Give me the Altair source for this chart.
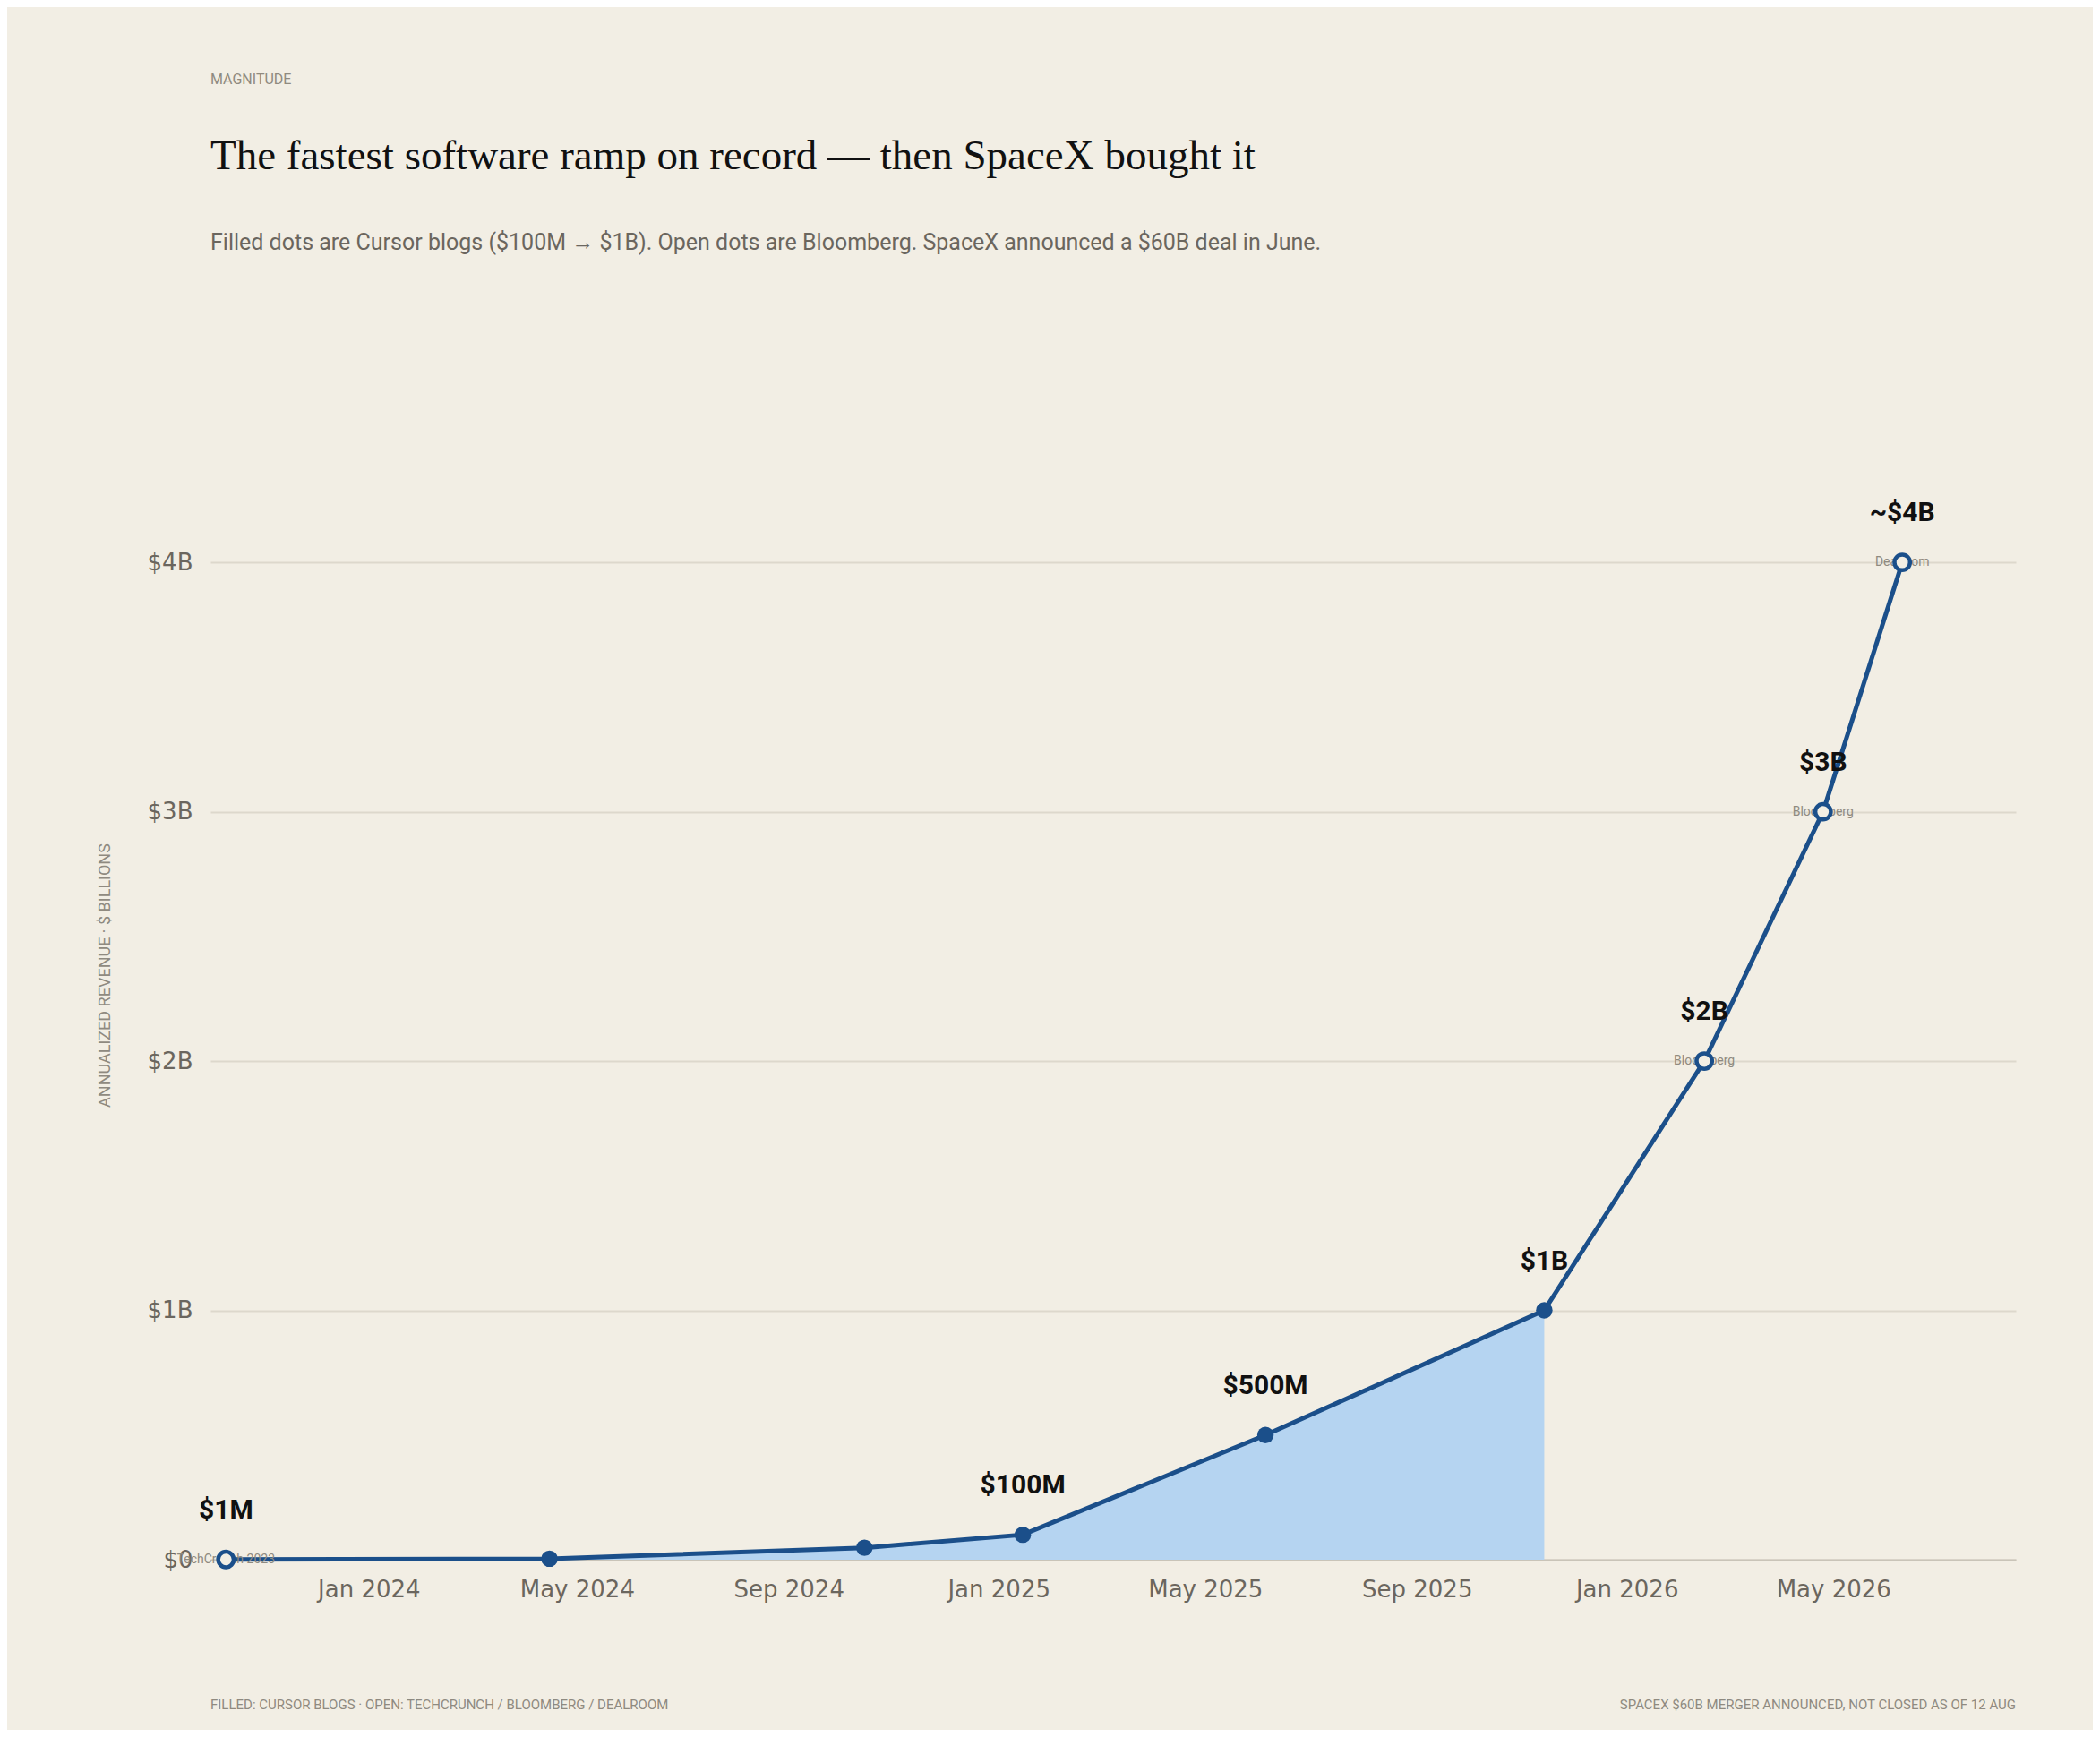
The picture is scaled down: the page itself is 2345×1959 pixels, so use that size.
import altair as alt
import pandas as pd

dates = ["2023-10-10", "2024-04-15", "2024-10-15", "2025-01-15", "2025-06-05",
         "2025-11-14", "2026-02-15", "2026-04-25", "2026-06-10"]
values = [0.001, 0.004, 0.048, 0.1, 0.5, 1.0, 2.0, 3.0, 4.0]
labels = ["$1M", "", "", "$100M", "$500M", "$1B", "$2B", "$3B", "~$4B"]
sources = ["TechCrunch 2023", "", "", "", "", "", "Bloomberg", "Bloomberg", "Dealroom"]
kinds = ["open", "filled", "filled", "filled", "filled", "filled", "open", "open", "open"]
in_area = [True, True, True, True, True, True, False, False, False]
tick_dates = ["2024-01-01", "2024-05-01", "2024-09-01", "2025-01-01", "2025-05-01",
              "2025-09-01", "2026-01-01", "2026-05-01"]

df = pd.DataFrame({"date": dates, "value": values, "label": labels,
                   "source": sources, "kind": kinds, "area": in_area})

BG = "#f2eee4"
LINE = "#1b4f8a"
GRAY = "#6b665e"
SANS = "Liberation Sans Narrow, Roboto, sans-serif"

xs = alt.Scale(domain=["2023-10-01", "2026-08-15"])
ys = alt.Scale(domain=[0, 4.69], nice=False)

x = alt.X("date:T", scale=xs, title=None,
          axis=alt.Axis(values=tick_dates, format="%b %Y", grid=False, ticks=False,
                        labelFontSize=26, labelColor=GRAY, labelPadding=20,
                        domainColor="#c9c4b8", domainWidth=2))
y = alt.Y("value:Q", scale=ys, title="ANNUALIZED REVENUE  ·  $ BILLIONS",
          axis=alt.Axis(values=[0, 1, 2, 3, 4], labelExpr="'$' + (datum.value == 0 ? '0' : datum.value + 'B')",
                        domain=False, ticks=False, gridColor="#ddd8cc", gridWidth=2,
                        labelFontSize=26, labelColor=GRAY, labelPadding=20,
                        titleFontSize=18, titleColor="#8f8a80", titleFontWeight="normal",
                        titleFont=SANS, titlePadding=38))

base = alt.Chart(df)
area = base.transform_filter("datum.area").mark_area(color="#b5d4f1", opacity=1).encode(x=x, y=y)
line = base.mark_line(color=LINE, strokeWidth=5).encode(x="date:T", y="value:Q")
filled = base.transform_filter("datum.kind == 'filled'").mark_point(
    filled=True, color=LINE, size=340, opacity=1).encode(x="date:T", y="value:Q")
srcs = base.transform_filter("datum.source != ''").mark_text(
    fontSize=14, color="#8f8a80", font=SANS).encode(x="date:T", y="value:Q", text="source:N")
opened = base.transform_filter("datum.kind == 'open'").mark_point(
    filled=True, fill=BG, stroke=LINE, strokeWidth=4.5, size=300, opacity=1).encode(x="date:T", y="value:Q")
lbls = base.transform_filter("datum.label != ''").mark_text(
    fontSize=30, fontWeight="bold", color="#111111", dy=-55, font=SANS).encode(
    x="date:T", y="value:Q", text="label:N")

def note(txt, y, size, color, font=SANS, xpos=0, align="left"):
    return alt.Chart(pd.DataFrame({"t": [txt]})).mark_text(
        align=align, baseline="middle", fontSize=size, color=color, font=font).encode(
        text="t:N", x=alt.value(xpos), y=alt.value(y))

W = 2016
header = [
    note("MAGNITUDE", -347, 16, "#8f8a80"),
    note("The fastest software ramp on record — then SpaceX bought it", -261, 47, "#111111",
         font="Liberation Serif"),
    note("Filled dots are Cursor blogs ($100M → $1B). Open dots are Bloomberg. SpaceX announced a $60B deal in June.",
         -165, 25, GRAY),
    note("FILLED: CURSOR BLOGS  ·  OPEN: TECHCRUNCH / BLOOMBERG / DEALROOM", 1468, 15, "#8f8a80"),
    note("SPACEX $60B MERGER ANNOUNCED, NOT CLOSED AS OF 12 AUG", 1468, 15, "#8f8a80", xpos=W, align="right"),
]

chart = alt.layer(area, line, filled, srcs, opened, lbls, *header).properties(
    width=W, height=1306,
    autosize=alt.AutoSizeParams(type="none"),
    padding={"left": 227, "top": 428, "right": 86, "bottom": 190},
    background=BG,
).configure_view(stroke=None).configure_axis(labelFont="DejaVu Sans")

chart.save("out.html", embed_options={"renderer": "svg", "actions": False})
